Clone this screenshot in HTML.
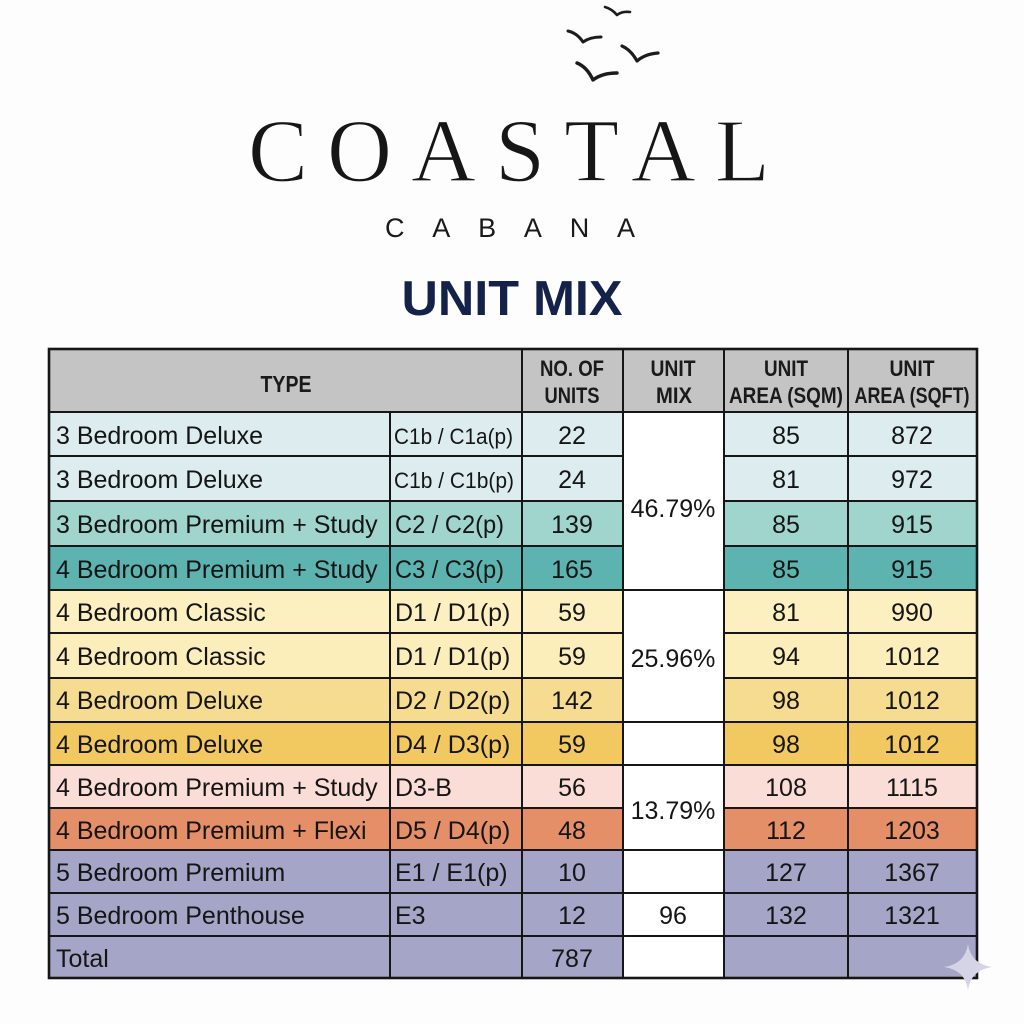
<!DOCTYPE html>
<html>
<head>
<meta charset="utf-8">
<style>
html,body{margin:0;padding:0;background:#fdfdfd;}
svg{display:block;}
</style>
</head>
<body>
<svg width="1024" height="1024" viewBox="0 0 1024 1024" xmlns="http://www.w3.org/2000/svg">
<rect x="0" y="0" width="1024" height="1024" fill="#fdfdfd"/>

<!-- birds -->
<g fill="none" stroke="#1c1c1c" stroke-linecap="round" stroke-linejoin="round">
  <path d="M605 7 Q612 9 617 15 Q622 11 630 12" stroke-width="2.6"/>
  <path d="M568 31 Q577 33 583 42 Q590 37 601 37" stroke-width="3"/>
  <path d="M622 46 Q631 50 637 61 Q645 54 658 53" stroke-width="3.2"/>
  <path d="M577 63 Q587 67 593 80 Q602 73 617 73" stroke-width="3.4"/>
</g>

<!-- logo -->
<text x="248" y="181" font-family="'Liberation Serif', serif" font-size="90" letter-spacing="19" fill="#161616" stroke="#fdfdfd" stroke-width="1.3">COASTAL</text>
<text x="385" y="237" font-family="'Liberation Sans', sans-serif" font-size="27" letter-spacing="27.8" fill="#1a1a1a">CABANA</text>
<text x="512" y="315" text-anchor="middle" font-family="'Liberation Sans', sans-serif" font-weight="bold" font-size="49" fill="#14224a" textLength="221" lengthAdjust="spacingAndGlyphs">UNIT MIX</text>

<!-- header background -->
<rect x="49" y="349" width="928" height="63" fill="#c4c4c4"/>

<!-- row backgrounds -->
<g>
  <rect x="49" y="412" width="928" height="44" fill="#dcecef"/>
  <rect x="49" y="456" width="928" height="45" fill="#dcecef"/>
  <rect x="49" y="501" width="928" height="45" fill="#9fd5cc"/>
  <rect x="49" y="546" width="928" height="44" fill="#5cb3b0"/>
  <rect x="49" y="590" width="928" height="43" fill="#fcf0c1"/>
  <rect x="49" y="633" width="928" height="45" fill="#fbeebb"/>
  <rect x="49" y="678" width="928" height="44" fill="#f6dc90"/>
  <rect x="49" y="722" width="928" height="43" fill="#f2c960"/>
  <rect x="49" y="765" width="928" height="43" fill="#f9ddd6"/>
  <rect x="49" y="808" width="928" height="42" fill="#e48f67"/>
  <rect x="49" y="850" width="928" height="128" fill="#a4a5c7"/>
  <!-- mix column white -->
  <rect x="623" y="412" width="101" height="566" fill="#ffffff"/>
</g>

<!-- grid lines -->
<g stroke="#161616" stroke-width="2">
  <line x1="49" y1="412" x2="977" y2="412"/>
  <line x1="49" y1="456" x2="623" y2="456"/><line x1="724" y1="456" x2="977" y2="456"/>
  <line x1="49" y1="501" x2="623" y2="501"/><line x1="724" y1="501" x2="977" y2="501"/>
  <line x1="49" y1="546" x2="623" y2="546"/><line x1="724" y1="546" x2="977" y2="546"/>
  <line x1="49" y1="590" x2="977" y2="590"/>
  <line x1="49" y1="633" x2="623" y2="633"/><line x1="724" y1="633" x2="977" y2="633"/>
  <line x1="49" y1="678" x2="623" y2="678"/><line x1="724" y1="678" x2="977" y2="678"/>
  <line x1="49" y1="722" x2="977" y2="722"/>
  <line x1="49" y1="765" x2="977" y2="765"/>
  <line x1="49" y1="808" x2="623" y2="808"/><line x1="724" y1="808" x2="977" y2="808"/>
  <line x1="49" y1="850" x2="977" y2="850"/>
  <line x1="49" y1="893" x2="977" y2="893"/>
  <line x1="49" y1="936" x2="977" y2="936"/>
  <line x1="390" y1="412" x2="390" y2="978"/>
  <line x1="522" y1="349" x2="522" y2="978"/>
  <line x1="623" y1="349" x2="623" y2="978"/>
  <line x1="724" y1="349" x2="724" y2="978"/>
  <line x1="848" y1="349" x2="848" y2="978"/>
</g>
<rect x="49" y="349" width="928" height="629" fill="none" stroke="#161616" stroke-width="2.6"/>

<!-- header text -->
<g font-family="'Liberation Sans', sans-serif" font-weight="bold" font-size="22" fill="#1a1a1a" text-anchor="middle">
  <text x="286" y="392" font-size="23" textLength="51" lengthAdjust="spacingAndGlyphs">TYPE</text>
  <text x="572" y="376" textLength="64" lengthAdjust="spacingAndGlyphs">NO. OF</text>
  <text x="572" y="403" textLength="55" lengthAdjust="spacingAndGlyphs">UNITS</text>
  <text x="673" y="376" textLength="45" lengthAdjust="spacingAndGlyphs">UNIT</text>
  <text x="674" y="403" textLength="36" lengthAdjust="spacingAndGlyphs">MIX</text>
  <text x="786" y="376" textLength="44" lengthAdjust="spacingAndGlyphs">UNIT</text>
  <text x="786" y="403" textLength="114" lengthAdjust="spacingAndGlyphs">AREA (SQM)</text>
  <text x="912" y="376" textLength="45" lengthAdjust="spacingAndGlyphs">UNIT</text>
  <text x="912" y="403" textLength="115" lengthAdjust="spacingAndGlyphs">AREA (SQFT)</text>
</g>

<!-- name column -->
<g font-family="'Liberation Sans', sans-serif" font-size="25" fill="#151515">
  <text x="56" y="444">3 Bedroom Deluxe</text>
  <text x="56" y="488">3 Bedroom Deluxe</text>
  <text x="56" y="533">3 Bedroom Premium + Study</text>
  <text x="56" y="578">4 Bedroom Premium + Study</text>
  <text x="56" y="621">4 Bedroom Classic</text>
  <text x="56" y="665">4 Bedroom Classic</text>
  <text x="56" y="709">4 Bedroom Deluxe</text>
  <text x="56" y="753">4 Bedroom Deluxe</text>
  <text x="56" y="796">4 Bedroom Premium + Study</text>
  <text x="56" y="839">4 Bedroom Premium + Flexi</text>
  <text x="56" y="881">5 Bedroom Premium</text>
  <text x="56" y="924">5 Bedroom Penthouse</text>
  <text x="56" y="967">Total</text>
</g>

<!-- code column -->
<g font-family="'Liberation Sans', sans-serif" font-size="25" fill="#151515">
  <text x="394" y="444" font-size="22" textLength="119" lengthAdjust="spacingAndGlyphs">C1b / C1a(p)</text>
  <text x="394" y="488" font-size="22" textLength="120" lengthAdjust="spacingAndGlyphs">C1b / C1b(p)</text>
  <text x="395" y="533" textLength="109" lengthAdjust="spacingAndGlyphs">C2 / C2(p)</text>
  <text x="395" y="578" textLength="109" lengthAdjust="spacingAndGlyphs">C3 / C3(p)</text>
  <text x="395" y="621">D1 / D1(p)</text>
  <text x="395" y="665">D1 / D1(p)</text>
  <text x="395" y="709">D2 / D2(p)</text>
  <text x="395" y="753">D4 / D3(p)</text>
  <text x="395" y="796">D3-B</text>
  <text x="395" y="839">D5 / D4(p)</text>
  <text x="395" y="881">E1 / E1(p)</text>
  <text x="395" y="924">E3</text>
</g>

<!-- numbers -->
<g font-family="'Liberation Sans', sans-serif" font-size="25" fill="#151515" text-anchor="middle">
  <text x="572" y="444">22</text>
  <text x="572" y="488">24</text>
  <text x="572" y="533">139</text>
  <text x="572" y="578">165</text>
  <text x="572" y="621">59</text>
  <text x="572" y="665">59</text>
  <text x="572" y="709">142</text>
  <text x="572" y="753">59</text>
  <text x="572" y="796">56</text>
  <text x="572" y="839">48</text>
  <text x="572" y="881">10</text>
  <text x="572" y="924">12</text>
  <text x="572" y="967">787</text>

  <text x="673" y="517">46.79%</text>
  <text x="673" y="667">25.96%</text>
  <text x="673" y="819">13.79%</text>
  <text x="673" y="924">96</text>

  <text x="786" y="444">85</text>
  <text x="786" y="488">81</text>
  <text x="786" y="533">85</text>
  <text x="786" y="578">85</text>
  <text x="786" y="621">81</text>
  <text x="786" y="665">94</text>
  <text x="786" y="709">98</text>
  <text x="786" y="753">98</text>
  <text x="786" y="796">108</text>
  <text x="786" y="839">112</text>
  <text x="786" y="881">127</text>
  <text x="786" y="924">132</text>

  <text x="912" y="444">872</text>
  <text x="912" y="488">972</text>
  <text x="912" y="533">915</text>
  <text x="912" y="578">915</text>
  <text x="912" y="621">990</text>
  <text x="912" y="665">1012</text>
  <text x="912" y="709">1012</text>
  <text x="912" y="753">1012</text>
  <text x="912" y="796">1115</text>
  <text x="912" y="839">1203</text>
  <text x="912" y="881">1367</text>
  <text x="912" y="924">1321</text>
</g>

<!-- faint sparkle -->
<path d="M968 944 Q971 964 992 967 Q971 970 968 990 Q965 970 944 967 Q965 964 968 944 Z" fill="#d4d4e6"/>
</svg>
</body>
</html>
